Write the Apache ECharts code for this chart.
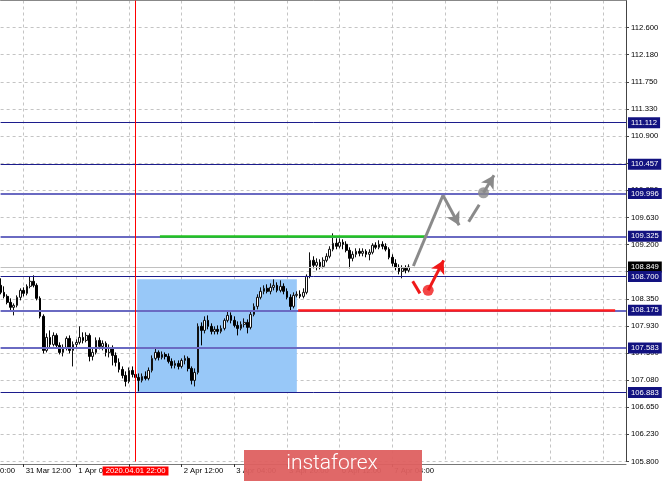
<!DOCTYPE html>
<html><head><meta charset="utf-8">
<script src="https://cdn.jsdelivr.net/npm/echarts@6/dist/echarts.min.js"></script>
<style>html,body{margin:0;padding:0;background:#fff}#c{width:665px;height:481px}</style>
</head><body><div id="c"></div>
<script>
// ---- data (USD/JPY, H1) ----
const firstBar = '31 Mar 05:00';
const firstLabel = '31 Mar 12:00';
const hiddenLeftLabel = '30 Mar 20:00';
const opens = [108.561,108.451,108.388,108.294,108.216,108.247,108.373,108.482,108.435,108.545,
 108.624,108.561,108.357,108.075,107.541,107.745,107.635,107.776,107.620,107.510,
 107.588,107.729,107.541,107.635,107.667,107.745,107.698,107.776,107.447,107.510,
 107.698,107.604,107.651,107.510,107.573,107.463,107.353,107.243,107.149,107.055,
 107.227,107.165,107.118,107.071,107.133,107.102,107.227,107.416,107.510,107.431,
 107.478,107.447,107.369,107.306,107.337,107.290,107.384,107.416,107.259,107.071,
 107.196,107.918,107.855,108.012,107.918,107.839,107.871,107.839,107.886,108.012,
 108.090,108.012,107.933,107.886,107.949,107.980,107.902,108.106,108.231,108.373,
 108.467,108.514,108.467,108.529,108.561,108.482,108.545,108.467,108.373,108.231,
 108.404,108.420,108.388,108.451,108.702,108.953,108.875,108.922,108.859,108.953,
 109.016,109.126,109.220,109.173,109.235,109.204,109.110,108.984,109.047,109.094,
 109.063,109.094,109.047,109.078,109.188,109.157,109.204,109.173,109.126,109.000,
 108.906,108.843,108.780,108.827,108.796];
const closes = [108.451,108.388,108.294,108.216,108.247,108.373,108.482,108.435,108.545,108.624,
 108.561,108.357,108.075,107.541,107.745,107.635,107.776,107.620,107.510,107.588,
 107.729,107.541,107.635,107.667,107.745,107.698,107.776,107.447,107.510,107.698,
 107.604,107.651,107.510,107.573,107.463,107.353,107.243,107.149,107.055,107.227,
 107.165,107.118,107.071,107.133,107.102,107.227,107.416,107.510,107.431,107.478,
 107.447,107.369,107.306,107.337,107.290,107.384,107.416,107.259,107.071,107.196,
 107.918,107.855,108.012,107.918,107.839,107.871,107.839,107.886,108.012,108.090,
 108.012,107.933,107.886,107.949,107.980,107.902,108.106,108.231,108.373,108.467,
 108.514,108.467,108.529,108.561,108.482,108.545,108.467,108.373,108.231,108.404,
 108.420,108.388,108.451,108.702,108.953,108.875,108.922,108.859,108.953,109.016,
 109.126,109.220,109.173,109.235,109.204,109.110,108.984,109.047,109.094,109.063,
 109.094,109.047,109.078,109.188,109.157,109.204,109.173,109.126,109.000,108.906,
 108.843,108.780,108.827,108.796,108.849];
const highs = [108.671,108.545,108.420,108.357,108.278,108.404,108.514,108.529,108.576,108.702,
 108.718,108.592,108.388,108.106,107.808,107.855,107.824,107.808,107.667,107.635,
 107.761,107.776,107.682,107.714,107.918,107.824,107.824,107.808,107.573,107.745,
 107.745,107.698,107.682,107.635,107.620,107.510,107.416,107.290,107.212,107.274,
 107.290,107.227,107.180,107.180,107.212,107.274,107.463,107.588,107.541,107.525,
 107.510,107.494,107.416,107.384,107.384,107.416,107.463,107.447,107.290,107.259,
 107.965,107.980,108.075,108.090,107.965,107.918,107.933,107.933,108.043,108.169,
 108.137,108.075,107.996,107.996,108.043,108.027,108.169,108.278,108.420,108.529,
 108.561,108.576,108.592,108.655,108.608,108.639,108.592,108.514,108.420,108.451,
 108.467,108.482,108.514,108.733,109.078,109.016,108.984,108.969,109.000,109.063,
 109.173,109.376,109.298,109.298,109.282,109.251,109.157,109.094,109.141,109.141,
 109.141,109.126,109.126,109.220,109.235,109.267,109.251,109.220,109.157,109.047,
 108.969,108.890,108.875,108.875,108.890];
const lows = [108.420,108.357,108.263,108.169,108.090,108.216,108.325,108.388,108.404,108.514,
 108.529,108.325,108.043,107.494,107.510,107.588,107.604,107.588,107.478,107.447,
 107.541,107.494,107.290,107.573,107.635,107.651,107.667,107.369,107.384,107.478,
 107.557,107.541,107.447,107.431,107.306,107.290,107.196,107.102,106.976,107.024,
 107.118,107.071,106.898,107.039,107.071,107.071,107.196,107.384,107.384,107.400,
 107.400,107.337,107.259,107.259,107.243,107.259,107.322,107.212,107.008,106.976,
 107.165,107.620,107.808,107.871,107.792,107.792,107.792,107.808,107.855,107.980,
 107.965,107.902,107.776,107.855,107.902,107.808,107.871,108.075,108.184,108.341,
 108.420,108.435,108.420,108.482,108.451,108.451,108.420,108.341,108.169,108.200,
 108.373,108.357,108.357,108.420,108.671,108.827,108.796,108.812,108.827,108.922,
 108.984,109.094,109.126,109.141,109.126,109.078,108.827,108.937,109.000,109.016,
 109.016,109.000,108.953,109.047,109.126,109.126,109.126,109.094,108.969,108.859,
 108.796,108.733,108.671,108.749,108.765];

const yTickLabels = ['105.800','106.230','106.650','107.080','107.500','107.930','108.350','108.780',
 '109.200','109.630','110.050','110.480','110.900','111.330','111.750','112.180','112.600'];
const yMin = 105.8, yStep = 0.425;

const levels = [111.112, 110.457, 109.996, 109.325, 108.700, 108.175, 107.583, 106.883];
const levelBold = [false, false, true, true, false, true, true, false];
const lastPrice = 108.849;
const crossBar = 50;               // hour index from 30 Mar 20:00 (= 1 Apr 22:00)
const crossText = '2020.04.01 22:00';

// annotations in [hour index from 30 Mar 20:00, price]
const boxCorners = [[50.5, 108.655], [99.0, 106.89]];
const greenSeg = [[57.4, 109.325], [138.0, 109.325]];
const redSeg = [[99.4, 108.175], [195.7, 108.175]];
const grayPath1 = [[134.4, 108.864], [143.4, 109.973], [148.3, 109.502]];
const grayDash = [[151.2, 109.557], [154.4, 109.824]];
const grayPath2 = [[155.7, 110.012], [158.9, 110.286]];
const redDash = [[134.2, 108.624], [136.4, 108.435]];
const redPath = [[138.9, 108.482], [143.6, 108.953]];
const grayDot = [155.7, 110.012];
const redDot = [138.9, 108.482];

// ---- categories (hourly, weekend skipped) ----
const months = ['Jan','Feb','Mar','Apr','May','Jun','Jul','Aug','Sep','Oct','Nov','Dec'];
const allHours = [];
let t = Date.UTC(2020, 2, 30, 20);
while (allHours.length < 200) {
  const d = new Date(t);
  const wd = d.getUTCDay();
  if (wd !== 0 && wd !== 6) {
    allHours.push(d.getUTCDate() + ' ' + months[d.getUTCMonth()] + ' ' + String(d.getUTCHours()).padStart(2, '0') + ':00');
  }
  t += 3600000;
}
const skip = allHours.indexOf(firstBar);          // hours before the first visible bar
const categories = allHours.slice(skip);
const labelStart = categories.indexOf(firstLabel);
const lastBar = opens.length - 1;
const crossCat = crossBar - skip;
const isGrid = (i) => i >= labelStart && (i - labelStart) % 16 === 0;
// time labels exist only up to the last bar; the one under the crosshair time box is not drawn
const isLabel = (i) => isGrid(i) && i <= lastBar && !(i > crossCat - 4 && i < crossCat + 12);
const isTick = (i) => isGrid(i) && i <= lastBar;
const candleData = categories.map((c, i) => (i < opens.length) ? [opens[i], closes[i], lows[i], highs[i]] : '-');

const FONT = 'Liberation Sans, Arial, sans-serif';
const FS = 7.7;
const boxLabel = (txt, bg) => ({
  show: true, position: 'end', distance: 2, formatter: txt,
  color: '#fff', backgroundColor: bg, padding: [1, 3, 1, 3],
  fontSize: FS, fontFamily: FONT, lineHeight: 9
});

const levelLines = levels.map((v, i) => ({
  yAxis: v,
  lineStyle: levelBold[i] ? { color: '#6a6ac2', width: 2, type: 'solid' } : { color: '#1c1c8c', width: 1, type: 'solid' },
  label: boxLabel(v.toFixed(3), '#121280')
}));

const seg = (pts, color, width, arrow) => {
  const out = [];
  for (let i = 0; i < pts.length - 1; i++) {
    const last = arrow && i === pts.length - 2;
    out.push([
      { coord: pts[i], symbol: 'none' },
      { coord: pts[i + 1], symbol: last ? 'arrow' : 'none', symbolSize: [11, 13],
        lineStyle: { color: color, width: width, type: 'solid' } }
    ]);
  }
  return out;
};

const GL = 0.6, GR = 626;
const chart = echarts.init(document.getElementById('c'), null, { renderer: 'canvas' });
chart.setOption({
  animation: false,
  backgroundColor: '#ffffff',
  grid: { left: GL, top: 0.5, width: GR - GL, height: 461, show: false },
  xAxis: [{
    type: 'category', data: categories, boundaryGap: false, offset: 2.5,
    axisLine: { show: true, lineStyle: { color: '#777', width: 1 } },
    axisTick: { show: true, length: 3, interval: isTick, lineStyle: { color: '#333' } },
    axisLabel: { interval: isLabel, align: 'left', padding: [0, 0, 0, 2],
      margin: 3, fontSize: FS, fontFamily: FONT, color: '#000' },
    splitLine: { show: true, interval: isGrid, lineStyle: { color: '#c4c4c4', type: [3, 3] } }
  }, {
    type: 'value', min: skip, max: skip + categories.length - 1, position: 'top',
    axisLine: { show: true, lineStyle: { color: '#888' } },
    axisTick: { show: false }, axisLabel: { show: false }, splitLine: { show: false }
  }],
  yAxis: [{
    type: 'value', position: 'right', min: yMin, max: yMin + yStep * 17, interval: yStep,
    axisLine: { show: true, lineStyle: { color: '#444' } },
    axisTick: { show: true, length: 3, lineStyle: { color: '#444' } },
    axisLabel: { margin: 5, fontSize: FS, fontFamily: FONT, color: '#000', showMaxLabel: false,
      formatter: (v) => { const k = Math.round((v - yMin) / yStep); return (k >= 0 && k < yTickLabels.length) ? yTickLabels[k] : ''; } },
    splitLine: { show: true, lineStyle: { color: '#c4c4c4', type: [3, 3] } }
  }],
  series: [
    { // blue rectangle
      type: 'line', xAxisIndex: 1, data: [], z: 1, clip: false, silent: true,
      markArea: { silent: true, itemStyle: { color: '#98c8f8' },
        data: [[{ coord: boxCorners[0] }, { coord: boxCorners[1] }]] }
    },
    { // price levels, crosshair, segments
      type: 'line', xAxisIndex: 1, data: [], z: 2, clip: false, silent: true,
      markLine: {
        silent: true, symbol: 'none', animation: false,
        data: [
          { yAxis: lastPrice, lineStyle: { color: '#c0c0c0', width: 1, type: 'solid' }, label: boxLabel(lastPrice.toFixed(3), '#000000') },
          ...levelLines,
          { xAxis: crossBar, lineStyle: { color: '#ff0000', width: 1, type: 'solid' },
            label: { show: true, position: 'start', distance: 5, formatter: crossText, color: '#fff',
              backgroundColor: '#ff0000', padding: [0, 3, 0, 3], fontSize: FS, fontFamily: FONT, lineHeight: 9 } },
          [{ coord: greenSeg[0], lineStyle: { color: '#22c322', width: 2.5, type: 'solid' }, label: { show: false } }, { coord: greenSeg[1] }],
          [{ coord: redSeg[0], lineStyle: { color: '#ff1c1c', width: 2.5, type: 'solid' }, label: { show: false } }, { coord: redSeg[1] }]
        ]
      }
    },
    {
      type: 'candlestick', xAxisIndex: 0, data: candleData, z: 3, barWidth: 2.2,
      itemStyle: { color: '#ffffff', color0: '#000000', borderColor: '#111', borderColor0: '#000', borderWidth: 1 }
    },
    { // forecast arrows
      type: 'line', xAxisIndex: 1, data: [], z: 4, clip: false, silent: true,
      markLine: {
        silent: true, symbol: 'none', animation: false, label: { show: false },
        data: [
          ...seg(grayPath1, '#8a8a8a', 3, true),
          ...seg(grayDash, '#8a8a8a', 3, false),
          ...seg(grayPath2, '#8a8a8a', 3, true),
          ...seg(redDash, '#f01818', 3, false),
          ...seg(redPath, '#f01818', 3, true)
        ]
      }
    },
    {
      type: 'scatter', xAxisIndex: 1, z: 5, symbolSize: 11, silent: true,
      data: [
        { value: grayDot, itemStyle: { color: '#8a8a8a' } },
        { value: redDot, itemStyle: { color: '#f01818' } }
      ]
    }
  ],
  graphic: [
    { type: 'text', z: 10, x: 15, y: 467, style: { text: hiddenLeftLabel, fill: '#000', font: FS + 'px ' + FONT, textAlign: 'right', textVerticalAlign: 'top' } },
    { type: 'rect', z: 100, shape: { x: 244, y: 450, width: 178, height: 40 }, style: { fill: 'rgba(222,96,96,0.95)' } },
    { type: 'text', z: 101, x: 332, y: 464, style: { text: 'instaforex', fill: '#ffffff', font: '300 21px Roboto, Liberation Sans, sans-serif', textAlign: 'center', textVerticalAlign: 'middle' } }
  ]
});
</script>
</body></html>
